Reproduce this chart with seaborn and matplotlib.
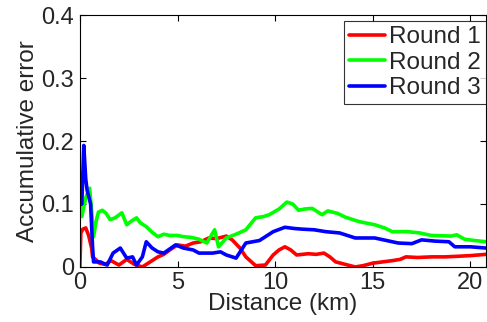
import matplotlib
matplotlib.use("Agg")
import matplotlib.pyplot as plt
import seaborn as sns
import pandas as pd

# Round 1
r1_x = [0.0, 0.05, 0.15, 0.3, 0.45, 0.6, 0.65, 0.8, 1.0, 1.3, 1.6, 2.0, 2.4, 2.8, 3.2, 3.6, 4.0, 4.3, 4.6, 5.0, 5.4, 5.8, 6.2, 6.6, 7.0, 7.5, 7.8, 8.2, 8.5, 9.0, 9.5, 9.9, 10.2, 10.5, 10.8, 11.1, 11.4, 11.7, 12.1, 12.5, 12.8, 13.1, 13.6, 14.1, 14.5, 15.0, 15.5, 16.0, 16.4, 16.7, 17.3, 18.0, 18.7, 19.4, 20.0, 20.8]
r1_y = [0.0, 0.054, 0.06, 0.062, 0.05, 0.03, 0.016, 0.012, 0.006, 0.004, 0.01, 0.003, 0.012, 0.004, 0.0, 0.008, 0.016, 0.02, 0.027, 0.035, 0.033, 0.038, 0.04, 0.046, 0.045, 0.049, 0.043, 0.03, 0.016, 0.002, 0.003, 0.019, 0.027, 0.032, 0.027, 0.019, 0.02, 0.021, 0.02, 0.022, 0.016, 0.008, 0.004, 0.0, 0.002, 0.006, 0.008, 0.01, 0.012, 0.016, 0.015, 0.016, 0.016, 0.017, 0.018, 0.02]

# Round 2
r2_x = [0.0, 0.1, 0.3, 0.5, 0.6, 0.7, 0.85, 0.95, 1.15, 1.35, 1.55, 1.8, 2.15, 2.4, 2.6, 2.9, 3.1, 3.4, 3.7, 4.0, 4.3, 4.6, 5.0, 5.3, 5.7, 6.1, 6.5, 6.9, 7.1, 7.5, 8.0, 8.5, 9.0, 9.4, 9.7, 10.2, 10.6, 10.9, 11.2, 11.5, 11.9, 12.2, 12.4, 12.7, 13.2, 13.6, 14.3, 15.1, 15.6, 16.0, 16.8, 17.4, 18.0, 19.0, 19.3, 19.7, 20.2, 20.8]
r2_y = [0.095, 0.08, 0.11, 0.125, 0.09, 0.048, 0.075, 0.087, 0.09, 0.085, 0.075, 0.078, 0.086, 0.067, 0.072, 0.078, 0.07, 0.064, 0.055, 0.048, 0.052, 0.05, 0.05, 0.048, 0.047, 0.044, 0.038, 0.059, 0.032, 0.046, 0.052, 0.059, 0.078, 0.08, 0.083, 0.092, 0.103, 0.1, 0.09, 0.092, 0.093, 0.087, 0.083, 0.089, 0.085, 0.079, 0.072, 0.067, 0.062, 0.056, 0.056, 0.054, 0.05, 0.049, 0.051, 0.044, 0.042, 0.04]

# Round 3
r3_x = [0.0, 0.1, 0.2, 0.3, 0.37, 0.55, 0.65, 0.7, 1.05, 1.4, 1.7, 2.07, 2.4, 2.7, 2.9, 3.2, 3.4, 3.7, 4.0, 4.3, 4.9, 5.3, 5.8, 6.1, 6.8, 7.2, 7.5, 8.0, 8.5, 9.2, 9.9, 10.5, 11.0, 11.4, 12.0, 12.6, 13.3, 14.1, 15.1, 15.7, 16.3, 17.0, 17.5, 18.2, 18.9, 19.2, 20.0, 20.8]
r3_y = [0.098, 0.1, 0.193, 0.14, 0.122, 0.1, 0.032, 0.008, 0.008, 0.003, 0.022, 0.03, 0.014, 0.016, 0.003, 0.016, 0.04, 0.03, 0.024, 0.022, 0.035, 0.03, 0.027, 0.022, 0.022, 0.024, 0.019, 0.014, 0.038, 0.042, 0.056, 0.063, 0.061, 0.06, 0.059, 0.056, 0.054, 0.046, 0.046, 0.042, 0.038, 0.037, 0.043, 0.041, 0.04, 0.032, 0.032, 0.03]

sns.set_style("ticks")
plt.rcParams['font.family'] = ['Liberation Sans', 'DejaVu Sans']
plt.rcParams['xtick.direction'] = 'in'
plt.rcParams['ytick.direction'] = 'in'

fig = plt.figure(figsize=(4.87, 3.22), dpi=100)
ax = fig.add_axes([0.164, 0.171, 0.834, 0.782])

d1 = pd.DataFrame({'x': r1_x, 'y': r1_y})
d2 = pd.DataFrame({'x': r2_x, 'y': r2_y})
d3 = pd.DataFrame({'x': r3_x, 'y': r3_y})

sns.lineplot(data=d1, x='x', y='y', color='#ff0000', lw=2.6, label='Round 1', ax=ax, sort=False)
sns.lineplot(data=d2, x='x', y='y', color='#00ff00', lw=2.6, label='Round 2', ax=ax, sort=False)
sns.lineplot(data=d3, x='x', y='y', color='#0000ff', lw=2.6, label='Round 3', ax=ax, sort=False)

ax.set_xlim(0, 20.8)
ax.set_ylim(0, 0.4)
ax.set_xticks([0, 5, 10, 15, 20])
ax.set_yticks([0, 0.1, 0.2, 0.3, 0.4])
ax.set_yticklabels(['0', '0.1', '0.2', '0.3', '0.4'])
ax.tick_params(labelsize=17, length=4, color='black', top=True, right=True)
ax.tick_params(axis='x', pad=4)
ax.tick_params(axis='y', pad=4)
for s in ax.spines.values():
    s.set_visible(True)
    s.set_color('black')
    s.set_linewidth(0.8)
ax.set_xlabel('Distance (km)', fontsize=17.5, labelpad=-1)
ax.set_ylabel('Accumulative error', fontsize=17.5, labelpad=2)

leg = ax.legend(loc='upper right', bbox_to_anchor=(1.0, 0.976), fontsize=17.5, frameon=True,
                fancybox=False, edgecolor='black', borderpad=0.2, labelspacing=0.15,
                handlelength=1.45, handletextpad=0.2, borderaxespad=0)
leg.get_frame().set_linewidth(0.8)

fig.savefig('out.png', dpi=100)
